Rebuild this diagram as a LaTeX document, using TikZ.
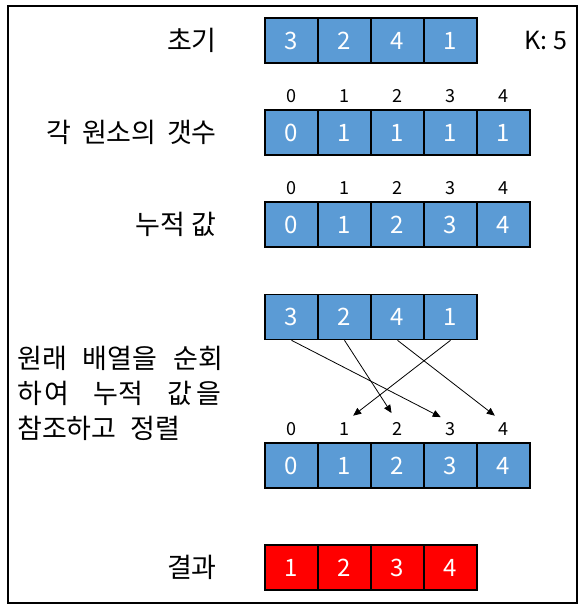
\documentclass[tikz,border=0pt]{standalone}
\usepackage{fontspec}
\setmainfont{Noto Sans CJK KR}
\usetikzlibrary{arrows.meta}
\definecolor{cellblue}{HTML}{5B9BD5}
\definecolor{cellred}{HTML}{FF0000}
\tikzset{
	cell/.style={draw=black, line width=1.6pt, fill=cellblue, text=white, minimum width=53pt, minimum height=45pt, inner sep=0pt, font=\fontsize{24}{28}\selectfont},
	redcell/.style={cell, fill=cellred},
	idx/.style={inner sep=0pt, font=\fontsize{18}{20}\selectfont},
	lbl/.style={anchor=east, inner sep=0pt, font=\fontsize{27}{30}\selectfont},
}
\begin{document}
\begin{tikzpicture}[x=1pt, y=-1pt, >={Triangle[length=8pt, width=7pt]}]
		\useasboundingbox (0,0) rectangle (585,613);
		\draw[line width=1.2pt] (8,6) rectangle (577,603);
		\node[lbl] (init) at (217,40.5) {초기};
		\node[lbl] (count) at (217,132.5) {\makebox[170pt][s]{각\hfill 원소의\hfill 갯수}};
		\node[lbl] (accum) at (217,224.5) {\makebox[81pt][s]{누적\hfill 값}};
		\node[lbl] (result) at (217,567.5) {결과};
		\node[anchor=west, inner sep=0pt, align=left, font=\fontsize{27}{35}\selectfont] (desc) at (17,393) {\makebox[206pt][s]{원래\hfill 배열을\hfill 순회}\\ \makebox[204pt][s]{하\hspace{2pt}여\hfill 누적\hfill 값\hspace{4pt}을}\\ \makebox[163pt][s]{참조하고\hfill 정렬}};
		\node[inner sep=0pt, font=\fontsize{25}{28}\selectfont] (k) at (546,40.5) {K: 5};
		\foreach \v [count=\i from 0] in {3,2,4,1} \node[cell] (a\i) at (291.5+53*\i,40.5) {\v};
		\foreach \v [count=\i from 0] in {0,1,1,1,1} \node[cell] (c\i) at (291.5+53*\i,132.5) {\v};
		\foreach \v [count=\i from 0] in {0,1,2,3,4} \node[cell] (s\i) at (291.5+53*\i,224.5) {\v};
		\foreach \v [count=\i from 0] in {3,2,4,1} \node[cell] (t\i) at (291.5+53*\i,317) {\v};
		\foreach \v [count=\i from 0] in {0,1,2,3,4} \node[cell] (r\i) at (291.5+53*\i,465.5) {\v};
		\foreach \v [count=\i from 0] in {1,2,3,4} \node[redcell] (f\i) at (291.5+53*\i,567.5) {\v};
		\foreach \i in {0,...,4} \node[idx] (p\i) at (291.5+53*\i,96) {\i};
		\foreach \i in {0,...,4} \node[idx] (q\i) at (291.5+53*\i,188) {\i};
		\foreach \i in {0,...,4} \node[idx] (n\i) at (291.5+53*\i,429) {\i};
		\draw[->, line width=0.8pt, shorten >=11pt] (t0.south) -- (n3.north);
		\draw[->, line width=0.8pt, shorten >=11pt] (t1.south) -- (n2.north);
		\draw[->, line width=0.8pt, shorten >=11pt] (t2.south) -- (n4.north);
		\draw[->, line width=0.8pt, shorten >=11pt] (t3.south) -- (n1.north);
	\end{tikzpicture}
\end{document}
